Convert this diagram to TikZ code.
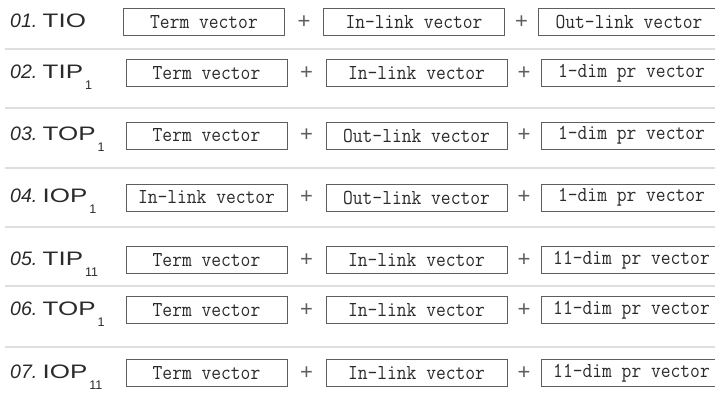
\documentclass[tikz,border=0pt]{standalone}
\usepackage{fontspec}
\usepackage{graphicx}
\newfontfamily\namefont{Liberation Sans}
\usepackage{tikz}

\definecolor{boxgray}{HTML}{5E5E5E}
\definecolor{sepgray}{HTML}{DEDEDE}
\definecolor{inkgray}{HTML}{2A2A2A}

% wide capitals and a deep subscript for the model names
\newcommand\wide[1]{\scalebox{1.33}[1]{#1}}
\newcommand\lowsub[1]{\kern2pt\raisebox{-11pt}{\fontsize{12.5}{12.5}\selectfont#1}}
% slightly taller typewriter text in the boxes
\newcommand\tall[1]{\scalebox{1}[1.12]{#1}}

\tikzstyle{rows}=[%
	every node/.style = {
		inner sep = 0pt,
		text = inkgray
	}
]
\tikzset{
	vecbox/.style = {draw=boxgray, line width=0.8pt, minimum height=27pt,
		font=\ttfamily\fontsize{19}{19}\selectfont},
	plus/.style = {font=\namefont\fontsize{22}{22}\selectfont, text=boxgray},
	rowname/.style = {anchor=base west, font=\namefont\fontsize{19.5}{19.5}\selectfont},
	sep/.style = {draw=sepgray, line width=1.5pt}
}

\begin{document}
\begin{tikzpicture}[x=1pt, y=-1pt, rows]
	\clip (0,0) rectangle (715,394);

	% Separators
	\foreach \y in {49,108,168,227,286,347} {
		\draw[sep] (5,\y) -- (715,\y);
	}

	% Rows: number / centre y / shift / name / subscript / three vectors
	\foreach \n/\y/\dx/\name/\sub/\a/\b/\c in {
		01/22/-2.5/TIO//Term vector/In-link vector/Out-link vector,
		02/73/0/TIP/1/Term vector/In-link vector/1-dim pr vector,
		03/135.5/0/TOP/1/Term vector/Out-link vector/1-dim pr vector,
		04/197.5/0/IOP/1/In-link vector/Out-link vector/1-dim pr vector,
		05/260/0/TIP/11/Term vector/In-link vector/11-dim pr vector,
		06/310/0/TOP/1/Term vector/In-link vector/11-dim pr vector,
		07/373/0/IOP/11/Term vector/In-link vector/11-dim pr vector} {
		\node[rowname] (name\n) at (10,\y+5) {{\itshape\n.}\ \wide{\name}\lowsub{\sub}};
		\node[vecbox, minimum width=161pt] (first\n) at (206.5+\dx,\y) {\tall{\a}};
		\node[plus] (plusa\n) at (306.5+\dx,\y) {+};
		\node[vecbox, minimum width=181pt] (second\n) at (416.5+\dx,\y) {\tall{\b}};
		\node[plus] (plusb\n) at (524+\dx,\y) {+};
		\node[vecbox, minimum width=181pt] (third\n) at (631.5+\dx,\y) {\tall{\c}};
	}

\end{tikzpicture}
\end{document}
